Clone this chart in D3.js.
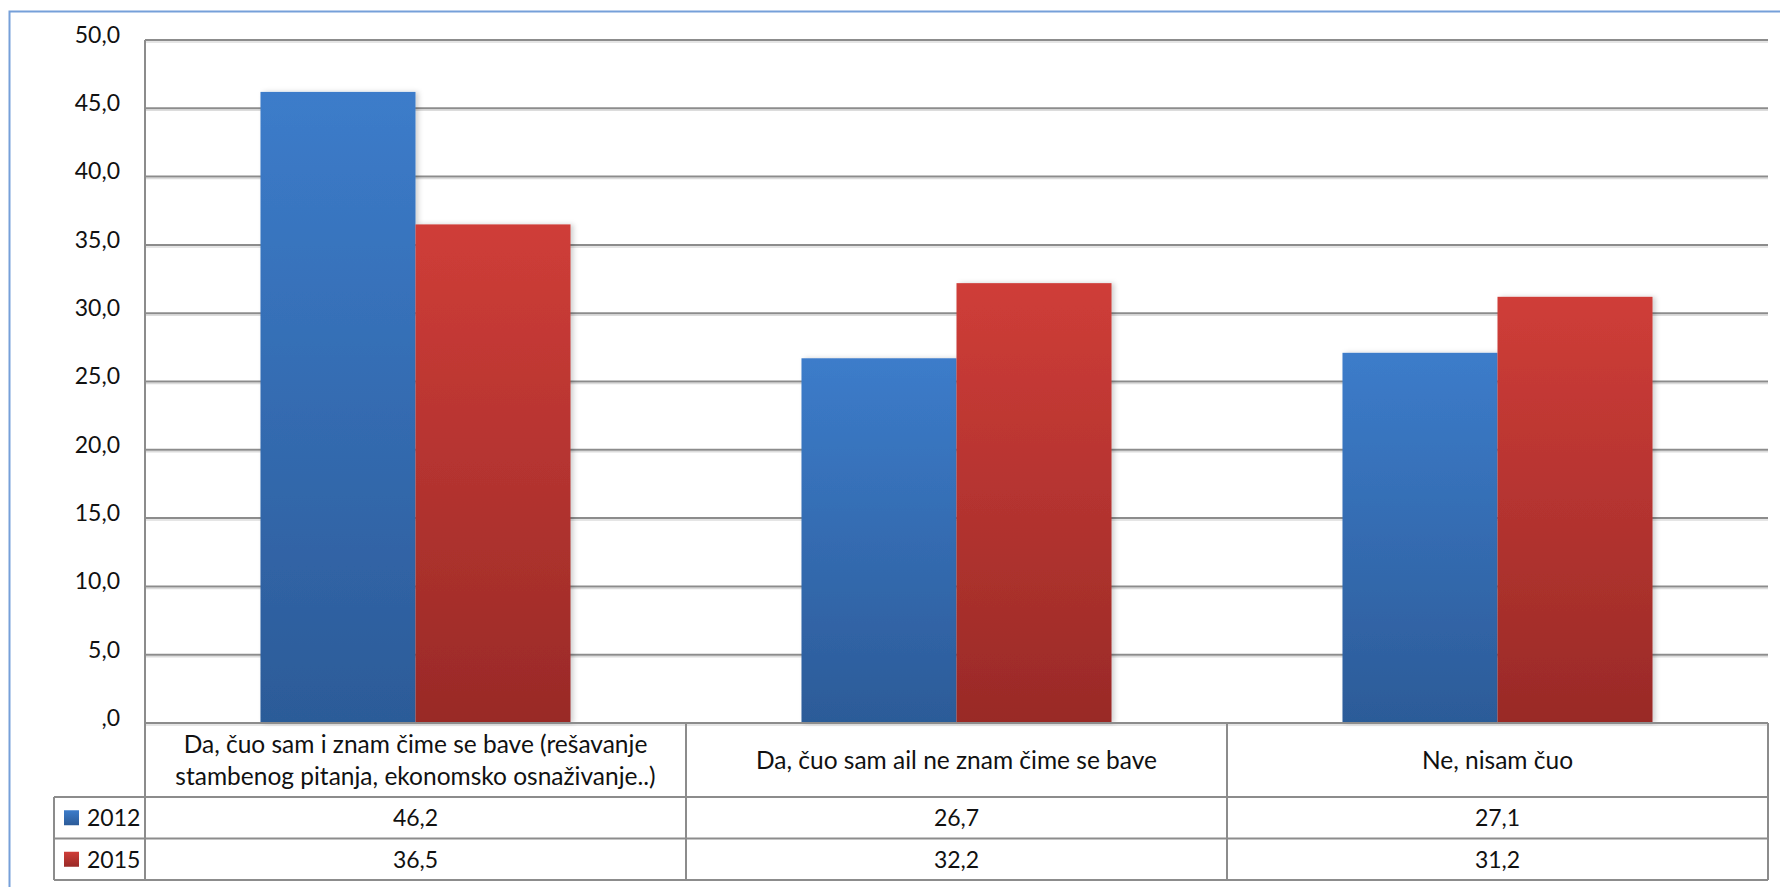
<!DOCTYPE html>
<html>
<head>
<meta charset="utf-8">
<script src="https://cdn.jsdelivr.net/npm/d3@7"></script>
<style>
  html, body { margin: 0; padding: 0; background: #fff; }
  svg { display: block; }
  text { font-family: "Lato", "Open Sans", sans-serif; fill: #111; }
</style>
</head>
<body>
<svg id="chart" width="1780" height="887"></svg>
<script>
// ---- data ----
const categories = [
  ["Da, čuo sam i znam čime se bave (rešavanje", "stambenog pitanja, ekonomsko osnaživanje..)"],
  ["Da, čuo sam ail ne znam čime se bave"],
  ["Ne, nisam čuo"]
];
const categoryKeys = ["c1", "c2", "c3"];
const seriesNames = ["2012", "2015"];
const values2012 = [46.2, 26.7, 27.1];
const values2015 = [36.5, 32.2, 31.2];
const valueLabels2012 = ["46,2", "26,7", "27,1"];
const valueLabels2015 = ["36,5", "32,2", "31,2"];
const tickValues = [0, 5, 10, 15, 20, 25, 30, 35, 40, 45, 50];
const tickLabels = [",0", "5,0", "10,0", "15,0", "20,0", "25,0", "30,0", "35,0", "40,0", "45,0", "50,0"];

const seriesValues = [values2012, values2015];
const seriesLabels = [valueLabels2012, valueLabels2015];

// ---- layout ----
const plotLeft = 145, plotRight = 1768, plotTop = 40, plotBottom = 723;
const catRowBottom = 797, rowH = 41.5;
const legendLeft = 54;

const svg = d3.select("#chart");

const defs = svg.append("defs");
const grads = [
  {id: "gBlue", top: "#3c7cca", bottom: "#2c5b98"},
  {id: "gRed", top: "#cf3d38", bottom: "#992a27"}
];
grads.forEach(g => {
  const lg = defs.append("linearGradient").attr("id", g.id)
    .attr("x1", 0).attr("y1", 0).attr("x2", 0).attr("y2", 1);
  lg.append("stop").attr("offset", "0%").attr("stop-color", g.top);
  lg.append("stop").attr("offset", "100%").attr("stop-color", g.bottom);
});
const f = defs.append("filter").attr("id", "shadow")
  .attr("x", "-10%").attr("y", "-10%").attr("width", "130%").attr("height", "120%");
f.append("feDropShadow").attr("dx", 3).attr("dy", 0).attr("stdDeviation", 2.5)
  .attr("flood-color", "#000").attr("flood-opacity", 0.18);

// frame
svg.append("rect").attr("x", 9.5).attr("y", 11.5).attr("width", 1800).attr("height", 900)
  .attr("fill", "none").attr("stroke", "#76a0d9").attr("stroke-width", 2);

const y = d3.scaleLinear().domain([0, 50]).range([plotBottom, plotTop]);
const x0 = d3.scaleBand().domain(categoryKeys).range([plotLeft, plotRight]).paddingInner(0).paddingOuter(0);
const x1 = d3.scaleBand().domain(seriesNames).range([0, x0.bandwidth()]).paddingInner(0).paddingOuter(0.745);

// gridlines
const grid = svg.append("g");
tickValues.forEach(v => {
  grid.append("line").attr("x1", plotLeft).attr("x2", plotRight)
    .attr("y1", y(v) + 2).attr("y2", y(v) + 2)
    .attr("stroke", "#dcdcdc").attr("stroke-width", 1.5);
  grid.append("line").attr("x1", plotLeft).attr("x2", plotRight)
    .attr("y1", y(v)).attr("y2", y(v))
    .attr("stroke", "#8c8c8c").attr("stroke-width", 2);
});

// y axis labels
const yAxis = d3.axisLeft(y).tickValues(tickValues)
  .tickFormat((d, i) => tickLabels[i]).tickSize(0).tickPadding(0);
const ya = svg.append("g").attr("transform", `translate(120,0)`).call(yAxis);
ya.select(".domain").remove();
ya.selectAll("text").style("font-family", "Lato, sans-serif").style("font-size", "23px").attr("fill", "#111").attr("dy", "0.1em");

// bars
const fills = ["url(#gBlue)", "url(#gRed)"];
seriesNames.forEach((s, si) => {
  svg.append("g").selectAll("rect").data(seriesValues[si]).join("rect")
    .attr("x", (d, i) => x0(categoryKeys[i]) + x1(s))
    .attr("y", d => y(d))
    .attr("width", x1.bandwidth())
    .attr("height", d => y(0) - y(d))
    .attr("fill", fills[si])
    .attr("filter", "url(#shadow)");
});

// table
const tb = svg.append("g").attr("stroke", "#8c8c8c").attr("stroke-width", 2).attr("fill", "none");
tb.append("line").attr("x1", plotLeft).attr("x2", plotLeft).attr("y1", plotTop).attr("y2", catRowBottom + 2 * rowH);
tb.append("line").attr("x1", plotLeft).attr("x2", plotRight).attr("y1", plotBottom).attr("y2", plotBottom);
tb.append("line").attr("x1", plotRight).attr("x2", plotRight).attr("y1", plotBottom).attr("y2", catRowBottom + 2 * rowH);
[catRowBottom, catRowBottom + rowH, catRowBottom + 2 * rowH].forEach(yy => {
  tb.append("line").attr("x1", legendLeft).attr("x2", plotRight).attr("y1", yy).attr("y2", yy);
});
tb.append("line").attr("x1", legendLeft).attr("x2", legendLeft).attr("y1", catRowBottom).attr("y2", catRowBottom + 2 * rowH);
categoryKeys.slice(1).forEach(k => {
  tb.append("line").attr("x1", x0(k)).attr("x2", x0(k)).attr("y1", plotBottom).attr("y2", catRowBottom + 2 * rowH);
});

// category labels
categories.forEach((lines, i) => {
  const cx = x0(categoryKeys[i]) + x0.bandwidth() / 2;
  const cy = (plotBottom + catRowBottom) / 2;
  const t = svg.append("text").attr("text-anchor", "middle").style("font-size", "24.5px")
    .style("font-family", "Lato, sans-serif");
  const lh = 32;
  lines.forEach((ln, j) => {
    t.append("tspan").attr("x", cx)
      .attr("y", cy + (j - (lines.length - 1) / 2) * lh)
      .attr("dy", "0.35em").text(ln);
  });
});

// legend + value rows
const legendFills = ["url(#gBlue)", "url(#gRed)"];
seriesNames.forEach((s, si) => {
  const rowTop = catRowBottom + si * rowH;
  const cy = rowTop + rowH / 2;
  svg.append("rect").attr("x", 64).attr("y", cy - 7.5).attr("width", 15).attr("height", 15)
    .attr("fill", legendFills[si]);
  svg.append("text").attr("x", 87).attr("y", cy).attr("dy", "0.36em")
    .style("font-size", "23px").style("font-family", "Lato, sans-serif").text(s);
  seriesLabels[si].forEach((lbl, i) => {
    svg.append("text").attr("x", x0(categoryKeys[i]) + x0.bandwidth() / 2).attr("y", cy)
      .attr("dy", "0.36em").attr("text-anchor", "middle")
      .style("font-size", "23px").style("font-family", "Lato, sans-serif").text(lbl);
  });
});
</script>
</body>
</html>
